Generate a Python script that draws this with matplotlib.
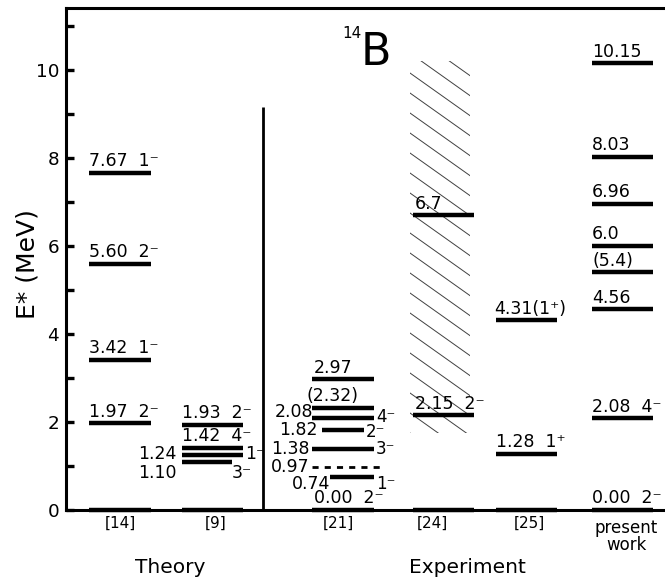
import numpy as np
import matplotlib
matplotlib.use("Agg")
import matplotlib.pyplot as plt
from matplotlib.patches import Rectangle

plt.rcParams['font.family'] = ['DejaVu Sans']

# level energies (MeV), label text and spin-parity per column
E_14 = [0.00, 1.97, 3.42, 5.60, 7.67]
T_14 = ['', '1.97', '3.42', '5.60', '7.67']
J_14 = ['', '2⁻', '1⁻', '2⁻', '1⁻']

E_9 = [0.00, 1.10, 1.24, 1.42, 1.93]
T_9 = ['', '1.10', '1.24', '1.42', '1.93']
J_9 = ['', '3⁻', '1⁻', '4⁻', '2⁻']

E_21 = [0.00, 0.74, 0.97, 1.38, 1.82, 2.08, 2.32, 2.97]
T_21 = ['0.00', '0.74', '0.97', '1.38', '1.82', '2.08', '(2.32)', '2.97']
J_21 = ['2⁻', '1⁻', '', '3⁻', '2⁻', '4⁻', '', '']

E_24 = [0.00, 2.15, 6.7]
T_24 = ['', '2.15', '6.7']
J_24 = ['', '2⁻', '']
band_24 = (1.75, 10.2)   # broad structure (hatched)

E_25 = [0.00, 1.28, 4.31]
T_25 = ['', '1.28', '4.31']
J_25 = ['', '1⁺', '(1⁺)']

E_pw = [0.00, 2.08, 4.56, 5.4, 6.0, 6.96, 8.03, 10.15]
T_pw = ['0.00', '2.08', '4.56', '(5.4)', '6.0', '6.96', '8.03', '10.15']
J_pw = ['2⁻', '4⁻', '', '', '', '', '', '']

col_names = ['[14]', '[9]', '[21]', '[24]', '[25]', 'present\nwork']

fig = plt.figure(figsize=(6.65, 5.83), dpi=100)
ax = fig.add_axes([66/665, 1-510/583, 599/665, 502/583])
ax.set_xlim(66, 665)
ax.set_ylim(0, 11.41)

LW = 3.2
FS = 12.5
dy = 0.06


def level(x0, x1, e, **kw):
    ax.hlines(e, x0, x1, colors='k', lw=kw.pop('lw', LW), capstyle='butt',
              clip_on=False, **kw)


def above(x, e, txt):
    ax.text(x, e + dy, txt, fontsize=FS, ha='left', va='bottom')


# Theory [14]
x0, x1 = 89, 151
for e, t, j in zip(E_14, T_14, J_14):
    level(x0, x1, e)
    if t:
        above(x0, e, t + '  ' + j)

# Theory [9]
x0, x1 = 182, 243
for e, t, j in zip(E_9, T_9, J_9):
    if t == '1.10':
        level(x0, 232, e)
        ax.text(177, e - 0.26, t, fontsize=FS, ha='right', va='center')
        ax.text(232, e - 0.26, j, fontsize=FS, ha='left', va='center')
    elif t == '1.24':
        level(x0, x1, e)
        ax.text(177, e + 0.03, t, fontsize=FS, ha='right', va='center')
        ax.text(245, e + 0.03, j, fontsize=FS, ha='left', va='center')
    else:
        level(x0, x1, e)
        if t:
            above(x0, e, t + '  ' + j)

# separator theory / experiment
ax.vlines(263, 0, 9.16, colors='k', lw=2)

# Experiment [21]
x0, x1 = 312, 374
short = {'0.74': (330, 374), '1.82': (322, 364)}
left_pos = {'0.74': (330, -0.16), '0.97': (310, 0.0), '1.38': (310, 0.0),
            '1.82': (318, 0.0), '2.08': (313, 0.14)}
for e, t, j in zip(E_21, T_21, J_21):
    a, b = short.get(t, (x0, x1))
    if t == '0.97':
        level(x0, 385, e, lw=2, linestyles=(0, (2.2, 2.2)))
    else:
        level(a, b, e)
    if t in left_pos:
        xl, off = left_pos[t]
        ax.text(xl, e + off, t, fontsize=FS, ha='right', va='center')
        if j:
            joff = {'0.74': -0.14, '2.08': 0.03, '1.82': -0.04}.get(t, 0.0)
            ax.text(b + 2, e + joff, j, fontsize=12, ha='left', va='center')
    elif t == '(2.32)':
        above(307, e, t)
    else:
        above(x0 + 2, e, t + ('  ' + j if j else ''))

# Experiment [24] with hatched broad structure
x0, x1 = 413, 474
hx0, hx1 = 410, 470
clip = Rectangle((hx0, band_24[0]), hx1 - hx0, band_24[1] - band_24[0],
                 transform=ax.transData, fill=False, lw=0)
ax.add_patch(clip)
slope = -0.71 / 44.0          # pixel slope converted to MeV per x-unit
gap = 20 / 44.0               # vertical spacing of hatch lines
for c in np.arange(band_24[0], band_24[1] + 60 * 0.71 / 44 + gap, gap):
    ln, = ax.plot([hx0, hx1], [c, c + slope * (hx1 - hx0)], color='0.25', lw=0.7)
    ln.set_clip_path(clip)
for e, t, j in zip(E_24, T_24, J_24):
    level(x0, x1, e)
    if t:
        above(x0 + 2, e, t + ('  ' + j if j else ''))

# Experiment [25]
x0, x1 = 496, 557
for e, t, j in zip(E_25, T_25, J_25):
    level(x0, x1, e)
    if t == '4.31':
        above(x0 - 2, e, t + j)
    elif t:
        above(x0, e, t + '  ' + j)

# present work
x0, x1 = 592, 653
for e, t, j in zip(E_pw, T_pw, J_pw):
    level(x0, x1, e)
    above(x0, e, t + ('  ' + j if j else ''))

# column labels
for xc, name in zip([120, 216, 338, 432, 529, 626], col_names):
    if 'work' in name:
        ax.text(xc, -0.2, name, fontsize=12, ha='center', va='top',
                linespacing=0.95)
    else:
        ax.text(xc, -0.3, name, fontsize=11, ha='center', va='center')
ax.text(170, -1.3, 'Theory', fontsize=14.5, ha='center', va='center')
ax.text(467, -1.3, 'Experiment', fontsize=14.5, ha='center', va='center')

# nucleus label
ax.text(342, 10.72, '14', fontsize=11, ha='left', va='baseline')
ax.text(361, 10.12, 'B', fontsize=32, ha='left', va='baseline')

# axes styling
ax.spines['right'].set_visible(False)
for s in ['left', 'top', 'bottom']:
    ax.spines[s].set_linewidth(2.2)
ax.set_xticks([])
ax.set_yticks(np.arange(0, 11, 2))
ax.set_yticks(np.arange(1, 12, 2), minor=True)
ax.tick_params(axis='y', which='both', direction='in', length=6, width=2.4,
               labelsize=13.2, pad=5)
ax.set_ylabel('E* (MeV)', fontsize=18)
ax.yaxis.set_label_coords(-26/599, 0.49)

fig.savefig('out.png', dpi=100)
